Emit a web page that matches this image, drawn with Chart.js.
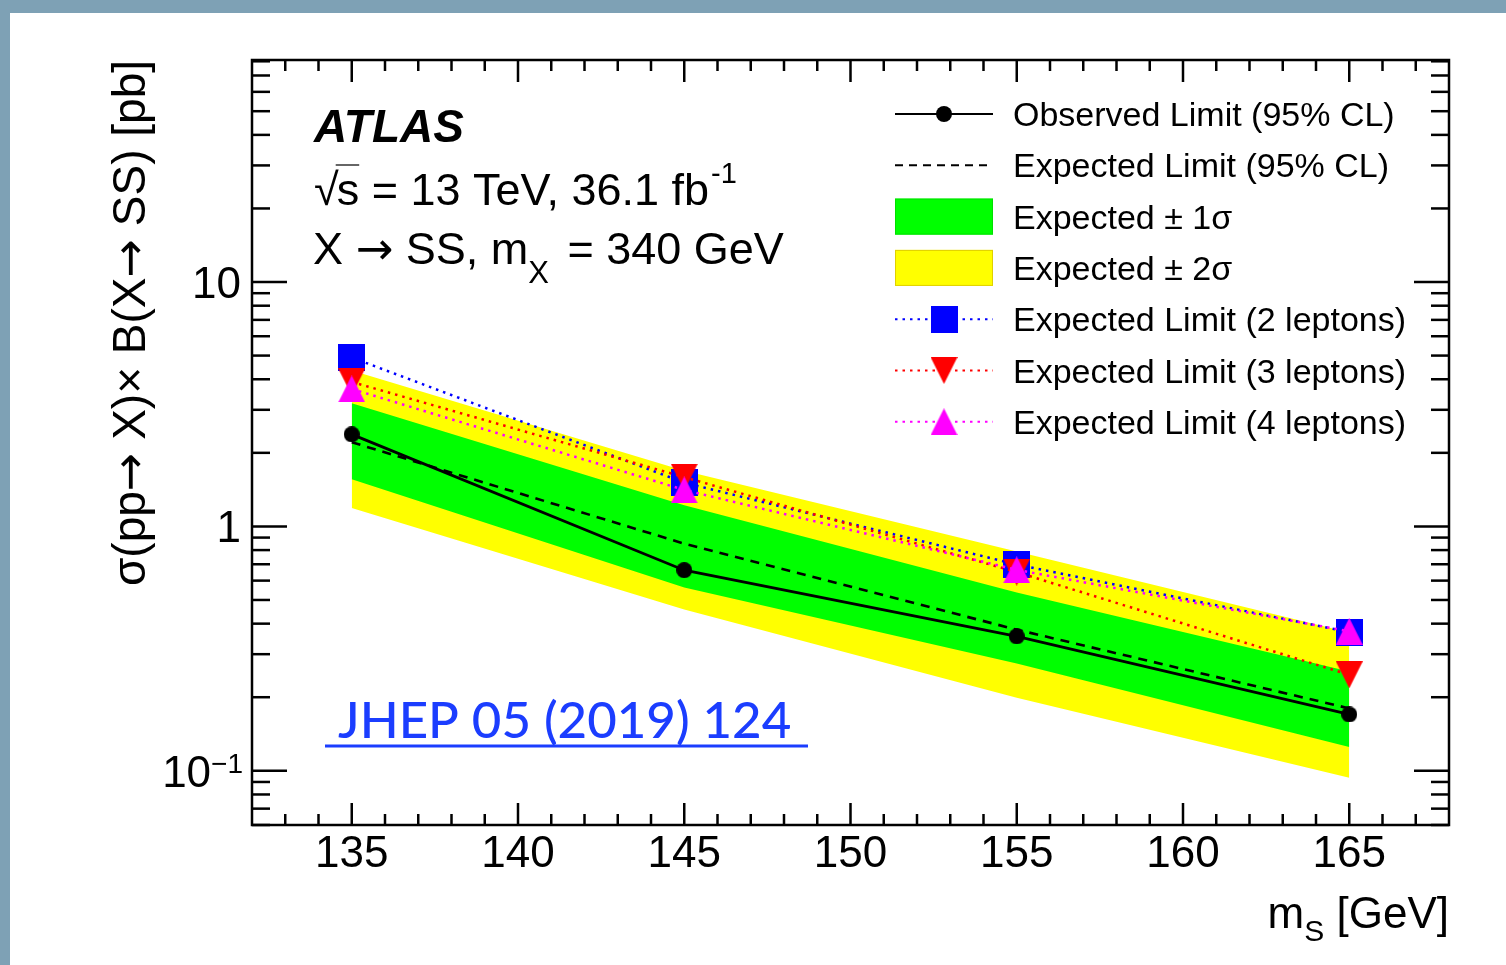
<!DOCTYPE html>
<html>
<head>
<meta charset="utf-8">
<script src="https://cdn.jsdelivr.net/npm/chart.js@4.4.1/dist/chart.umd.min.js"></script>
<style>
  html, body { margin: 0; padding: 0; background: #ffffff; overflow: hidden; }
  canvas { display: block; }
</style>
</head>
<body>
<canvas id="limits" width="1506" height="965"></canvas>
<script>
// Scalar mass points (GeV)
const massPoints = [135, 145, 155, 165];

// 95% CL upper limits on sigma x BR (pb)
const observedLimit       = [2.38, 0.662, 0.355, 0.170];
const expectedLimit       = [2.21, 0.85, 0.378, 0.180];
const expectedPlus1Sigma  = [3.19, 1.22, 0.537, 0.255];
const expectedMinus1Sigma = [1.56, 0.562, 0.275, 0.125];
const expectedPlus2Sigma  = [4.34, 1.69, 0.79, 0.368];
const expectedMinus2Sigma = [1.19, 0.457, 0.199, 0.0936];
const expected2Leptons    = [4.91, 1.51, 0.698, 0.369];
const expected3Leptons    = [3.90, 1.59, 0.650, 0.247];
const expected4Leptons    = [3.65, 1.41, 0.664, 0.372];

// Axis ranges and labelled ticks
const xRange = [132, 168];
const yRange = [0.06, 81];
const xTickLabels = [135, 140, 145, 150, 155, 160, 165];
const yTickLabels = [0.1, 1, 10];

const FONT = '"Liberation Sans", Arial, Helvetica, sans-serif';
const ARROW_FONT = '"DejaVu Sans", sans-serif';
const ARROW = '\u2192';

// Marker sprites in the ROOT style (bounding box centred on the point)
function makeMarker(kind, color, size) {
  const c = document.createElement('canvas');
  c.width = size; c.height = size;
  const g = c.getContext('2d');
  g.fillStyle = color;
  g.beginPath();
  if (kind === 'circle') {
    g.arc(size / 2, size / 2, size / 2, 0, Math.PI * 2);
  } else if (kind === 'square') {
    g.rect(0, 0, size, size);
  } else if (kind === 'up') {
    g.moveTo(size / 2, 0); g.lineTo(size, size); g.lineTo(0, size); g.closePath();
  } else if (kind === 'down') {
    g.moveTo(0, 0); g.lineTo(size, 0); g.lineTo(size / 2, size); g.closePath();
  }
  g.fill();
  return c;
}

const markerCircle = makeMarker('circle', '#000000', 16);
const markerSquare = makeMarker('square', '#0000ff', 27);
const markerDown   = makeMarker('down', '#ff0000', 27);
const markerUp     = makeMarker('up', '#ff00ff', 27);

const pts = arr => massPoints.map((m, i) => ({ x: m, y: arr[i] }));
const hidden = 'rgba(0,0,0,0)';

const datasets = [
  { label: 'Expected \u00b1 2\u03c3', data: pts(expectedPlus2Sigma), fill: '+1',
    backgroundColor: '#ffff00', borderColor: hidden, borderWidth: 0, pointRadius: 0, order: 20,
    legend: { slot: 3, kind: 'box', color: '#ffff00', edge: '#e0d000' } },
  { label: '', data: pts(expectedMinus2Sigma), fill: false,
    borderColor: hidden, borderWidth: 0, pointRadius: 0, order: 20 },
  { label: 'Expected \u00b1 1\u03c3', data: pts(expectedPlus1Sigma), fill: '+1',
    backgroundColor: '#00ff00', borderColor: hidden, borderWidth: 0, pointRadius: 0, order: 19,
    legend: { slot: 2, kind: 'box', color: '#00ff00', edge: '#00e000' } },
  { label: '', data: pts(expectedMinus1Sigma), fill: false,
    borderColor: hidden, borderWidth: 0, pointRadius: 0, order: 19 },
  { label: 'Expected Limit (95% CL)', data: pts(expectedLimit), fill: false,
    borderColor: '#000000', borderWidth: 2.6, borderDash: [9, 7], pointRadius: 0, order: 10,
    legend: { slot: 1, kind: 'line', width: 2, dash: [8, 6] } },
  { label: 'Observed Limit (95% CL)', data: pts(observedLimit), fill: false,
    borderColor: '#000000', borderWidth: 2.8, pointStyle: markerCircle, pointRadius: 8, order: 9,
    legend: { slot: 0, kind: 'line', width: 2, dash: [], marker: markerCircle } },
  { label: 'Expected Limit (2 leptons)', data: pts(expected2Leptons), fill: false,
    borderColor: '#0000ff', borderWidth: 2.5, borderDash: [2.5, 5], pointStyle: markerSquare, pointRadius: 14, order: 3,
    legend: { slot: 4, kind: 'line', width: 2, dash: [2.5, 5], marker: markerSquare } },
  { label: 'Expected Limit (3 leptons)', data: pts(expected3Leptons), fill: false,
    borderColor: '#ff0000', borderWidth: 2.5, borderDash: [2.5, 5], pointStyle: markerDown, pointRadius: 14, order: 2,
    legend: { slot: 5, kind: 'line', width: 2, dash: [2.5, 5], marker: markerDown } },
  { label: 'Expected Limit (4 leptons)', data: pts(expected4Leptons), fill: false,
    borderColor: '#ff00ff', borderWidth: 2.5, borderDash: [2.5, 5], pointStyle: markerUp, pointRadius: 14, order: 1,
    legend: { slot: 6, kind: 'line', width: 2, dash: [2.5, 5], marker: markerUp } }
];

function seg(ctx, x1, y1, x2, y2) {
  ctx.beginPath(); ctx.moveTo(x1, y1); ctx.lineTo(x2, y2); ctx.stroke();
}

// Text made of runs with their own font and baseline shift
function runsWidth(ctx, runs) {
  let w = 0;
  runs.forEach(r => { ctx.font = r.font; w += ctx.measureText(r.text).width + (r.gap || 0); });
  return w;
}
function drawRuns(ctx, runs, x, y) {
  ctx.textAlign = 'left';
  runs.forEach(r => {
    ctx.font = r.font;
    ctx.fillText(r.text, x, y + (r.dy || 0));
    x += ctx.measureText(r.text).width + (r.gap || 0);
  });
  return x;
}

// Frame, ticks, labels, legend and annotations in the ATLAS/ROOT style
const atlasDecor = {
  id: 'atlasDecor',
  beforeDraw(chart) {
    const ctx = chart.ctx;
    ctx.save();
    ctx.fillStyle = '#7ea1b5';
    ctx.fillRect(0, 0, chart.width, chart.height);
    ctx.fillStyle = '#ffffff';
    ctx.fillRect(10, 13, chart.width - 10, chart.height - 13);
    ctx.restore();
  },
  afterDatasetsDraw(chart) {
    const ctx = chart.ctx;
    const { left, right, top, bottom } = chart.chartArea;
    const xs = chart.scales.x, ys = chart.scales.y;
    ctx.save();
    ctx.strokeStyle = '#000000';
    ctx.fillStyle = '#000000';
    ctx.lineWidth = 2.5;
    ctx.lineCap = 'butt';

    // x ticks (bottom and top)
    for (let v = Math.ceil(xRange[0]); v <= xRange[1]; v++) {
      const px = xs.getPixelForValue(v);
      if (px < left + 2 || px > right - 2) continue;
      const len = v % 5 === 0 ? 22 : 11;
      seg(ctx, px, bottom, px, bottom - len);
      seg(ctx, px, top, px, top + len);
    }
    // y ticks (left and right), 1..9 per decade
    for (let d = -2; d <= 1; d++) {
      for (let k = 1; k <= 9; k++) {
        const v = k * Math.pow(10, d);
        if (v < yRange[0] || v > yRange[1]) continue;
        const py = ys.getPixelForValue(v);
        const len = k === 1 ? 35 : 18;
        seg(ctx, left, py, left + len, py);
        seg(ctx, right, py, right - len, py);
      }
    }
    // frame
    ctx.strokeRect(left, top, right - left, bottom - top);

    // x tick labels
    ctx.font = '44px ' + FONT;
    ctx.textAlign = 'center';
    ctx.textBaseline = 'alphabetic';
    xTickLabels.forEach(v => ctx.fillText(String(v), xs.getPixelForValue(v), 867));

    // y tick labels
    yTickLabels.forEach(v => {
      const py = ys.getPixelForValue(v);
      const exp = Math.round(Math.log10(v));
      const runs = exp >= 0
        ? [{ text: String(v), font: '44px ' + FONT }]
        : [{ text: '10', font: '44px ' + FONT },
           { text: '\u2212' + String(-exp), font: '28px ' + FONT, dy: -14 }];
      const w = runsWidth(ctx, runs);
      drawRuns(ctx, runs, (exp >= 0 ? 241 : 243) - w, py + 16);
    });

    // x axis title: m_S [GeV]
    {
      const runs = [
        { text: 'm', font: '44px ' + FONT },
        { text: 'S', font: '30px ' + FONT, dy: 13 },
        { text: ' [GeV]', font: '44px ' + FONT }
      ];
      drawRuns(ctx, runs, right - runsWidth(ctx, runs), 928);
    }

    // y axis title
    {
      const f = '46px ' + FONT, fa = '46px ' + ARROW_FONT;
      const runs = [
        { text: '\u03c3(pp', font: f },
        { text: ARROW, font: fa },
        { text: ' X)\u00d7 B(X', font: f },
        { text: ARROW, font: fa },
        { text: ' SS) [pb]', font: f }
      ];
      ctx.save();
      ctx.translate(145, top);
      ctx.rotate(-Math.PI / 2);
      drawRuns(ctx, runs, -runsWidth(ctx, runs), 0);
      ctx.restore();
    }

    // ATLAS label and run conditions
    ctx.textAlign = 'left';
    ctx.font = 'italic bold 46px ' + FONT;
    ctx.fillText('ATLAS', 314, 142);

    const f45 = '45px ' + FONT;
    ctx.font = f45;
    const wRoot = ctx.measureText('\u221a').width;
    ctx.fillText('\u221a', 314, 205);
    const wS = ctx.measureText('s').width;
    ctx.fillText('s', 314 + wRoot - 2, 205);
    ctx.lineWidth = 1.2;
    seg(ctx, 314 + wRoot - 3, 165, 314 + wRoot - 2 + wS, 165);
    drawRuns(ctx, [
      { text: ' = 13 TeV, 36.1 fb', font: f45, gap: 2 },
      { text: '-1', font: '29px ' + FONT, dy: -22 }
    ], 314 + wRoot - 2 + wS, 205);

    drawRuns(ctx, [
      { text: 'X ', font: f45 },
      { text: ARROW, font: '45px ' + ARROW_FONT },
      { text: ' SS, m', font: f45 },
      { text: 'X', font: '31px ' + FONT, dy: 19, gap: 6 },
      { text: ' = 340 GeV', font: f45 }
    ], 313, 264);

    // publication reference
    ctx.fillStyle = '#1b3dff';
    ctx.strokeStyle = '#1b3dff';
    ctx.font = '500 51px Lato, "Open Sans", sans-serif';
    ctx.fillText('JHEP 05 (2019) 124', 338, 738);
    ctx.lineWidth = 3;
    seg(ctx, 325, 746, 808, 746);

    // legend
    ctx.fillStyle = '#000000';
    ctx.strokeStyle = '#000000';
    const entries = chart.data.datasets.filter(ds => ds.legend).sort((a, b) => a.legend.slot - b.legend.slot);
    const lx0 = 895, lx1 = 993, lxm = 944, tx = 1013;
    entries.forEach(ds => {
      const cy = 114 + ds.legend.slot * 51.3;
      const L = ds.legend;
      if (L.kind === 'box') {
        ctx.fillStyle = L.color;
        ctx.fillRect(lx0, cy - 18, lx1 - lx0, 36);
        ctx.strokeStyle = L.edge;
        ctx.lineWidth = 1;
        ctx.strokeRect(lx0 + 0.5, cy - 17.5, lx1 - lx0 - 1, 35);
      } else {
        ctx.strokeStyle = ds.borderColor;
        ctx.lineWidth = L.width;
        ctx.setLineDash(L.dash);
        seg(ctx, lx0, cy, lx1, cy);
        ctx.setLineDash([]);
        if (L.marker) {
          ctx.drawImage(L.marker, lxm - L.marker.width / 2, cy - L.marker.height / 2);
        }
      }
      ctx.fillStyle = '#000000';
      ctx.font = '34px ' + FONT;
      ctx.textAlign = 'left';
      ctx.fillText(ds.label, tx, cy + 12);
    });

    ctx.restore();
  }
};

new Chart(document.getElementById('limits'), {
  type: 'line',
  data: { datasets },
  options: {
    responsive: false,
    animation: false,
    devicePixelRatio: 1,
    layout: { padding: { left: 252, top: 60, right: 57, bottom: 140 } },
    elements: { line: { tension: 0 } },
    scales: {
      x: { type: 'linear', min: xRange[0], max: xRange[1], display: false },
      y: { type: 'logarithmic', min: yRange[0], max: yRange[1], display: false }
    },
    plugins: {
      legend: { display: false },
      tooltip: { enabled: false },
      filler: { propagate: false }
    }
  },
  plugins: [atlasDecor]
});
</script>
</body>
</html>
